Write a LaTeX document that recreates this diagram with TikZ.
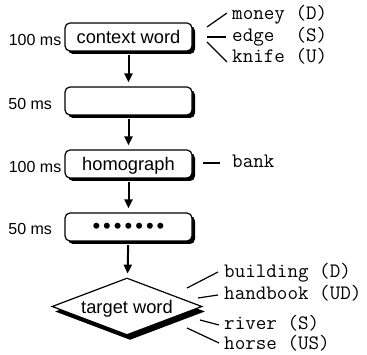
\documentclass[tikz,border=0pt]{standalone}
\usepackage{fontspec}
\setmainfont{Liberation Sans}
\usetikzlibrary{arrows.meta,shapes.geometric,shadows}

\tikzset{
  screen/.style={draw, line width=1.2pt, rounded corners=5pt, fill=white,
    minimum width=127pt, minimum height=28pt, inner sep=0pt,
    text height=13pt, text depth=0pt, font=\fontsize{18.3}{20}\selectfont,
    drop shadow={shadow xshift=3pt, shadow yshift=-3pt, fill=black, opacity=1}},
  target/.style={diamond, draw, line width=1.2pt, fill=white, aspect=2.6,
    minimum width=150pt, minimum height=57pt, inner sep=0pt,
    text height=15pt, text depth=0pt, font=\fontsize{18.3}{20}\selectfont,
    drop shadow={shadow xshift=3pt, shadow yshift=-5pt, fill=black, opacity=1}},
  dur/.style={inner sep=0pt, font=\fontsize{16}{19}\selectfont},
  probe/.style={inner sep=0pt, anchor=base west, font=\ttfamily\fontsize{20.5}{22}\selectfont},
  flow/.style={-{Triangle[width=8pt,length=9pt]}, line width=2pt,
    shorten <=3.5pt, shorten >=4pt},
  tie/.style={line width=1.2pt}
}

\newcommand{\blob}{\textbullet\kern3pt}

\begin{document}
\begin{tikzpicture}[x=10pt,y=-10pt]
\useasboundingbox (0,0) rectangle (36.7,35.5);

% Trial sequence
\node[screen] (context) at (12.85,3.7) {context word};
\node[screen] (blank) at (12.85,10.1) {};
\node[screen] (homograph) at (12.85,16.4) {homograph};
\node[screen] (mask) at (12.85,22.7) {{\fontsize{22}{24}\selectfont\blob\blob\blob\blob\blob\blob\textbullet}};
\node[target] (targetword) at (12.7,30.65) {target word};

\draw[flow] (context) -- (blank);
\draw[flow] (blank) -- (homograph);
\draw[flow] (homograph) -- (mask);
\draw[flow] (mask) -- (targetword);

% Durations
\node[dur, anchor=base east] (t1) at (6.15,4.6) {100 ms};
\node[dur, anchor=base west] (t2) at (0.82,11.0) {50 ms};
\node[dur, anchor=base east] (t3) at (6.15,17.3) {100 ms};
\node[dur, anchor=base west] (t4) at (0.82,23.5) {50 ms};

% Context words
\node[probe] (money) at (23.2,2.0) {money (D)};
\node[probe] (edge) at (23.2,4.2) {edge\ \ (S)};
\node[probe] (knife) at (23.2,6.3) {knife (U)};

\coordinate (money0) at (20.7,2.7);
\coordinate (money1) at (22.7,1.3);
\coordinate (edge0) at (20.7,3.7);
\coordinate (edge1) at (22.6,3.7);
\coordinate (knife0) at (20.7,4.2);
\coordinate (knife1) at (22.7,6.2);
\draw[tie] (money0) -- (money1);
\draw[tie] (edge0) -- (edge1);
\draw[tie] (knife0) -- (knife1);

% Homograph
\node[probe] (bank) at (23.2,16.8) {bank};
\coordinate (bank0) at (20.3,16.3);
\coordinate (bank1) at (22.0,16.3);
\draw[tie] (bank0) -- (bank1);

% Target words
\node[probe] (building) at (22.4,27.8) {building (D)};
\node[probe] (handbook) at (22.4,30.0) {handbook (UD)};
\node[probe] (river) at (22.4,33.0) {river (S)};
\node[probe] (horse) at (22.4,35.0) {horse (US)};

\coordinate (building0) at (18.7,28.8);
\coordinate (building1) at (21.8,27.2);
\coordinate (handbook0) at (19.8,29.8);
\coordinate (handbook1) at (21.8,29.5);
\coordinate (river0) at (20.0,32.0);
\coordinate (river1) at (21.9,32.5);
\coordinate (horse0) at (18.7,32.8);
\coordinate (horse1) at (21.9,34.3);
\draw[tie] (building0) -- (building1);
\draw[tie] (handbook0) -- (handbook1);
\draw[tie] (river0) -- (river1);
\draw[tie] (horse0) -- (horse1);

\end{tikzpicture}
\end{document}
